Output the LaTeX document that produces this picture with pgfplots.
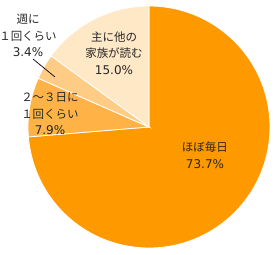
\documentclass[border=0pt]{standalone}
\usepackage{pgfplots}
\pgfplotsset{compat=1.18}
\usepackage{fontspec}
\setmainfont{Noto Sans CJK JP}
\newfontfamily\cjk{Noto Sans CJK JP}
\newfontfamily\num{DejaVu Sans}
\definecolor{c1}{HTML}{FF9900}
\definecolor{c2}{HTML}{FFB347}
\definecolor{c3}{HTML}{FFCC85}
\definecolor{c4}{HTML}{FFE8C6}
\newcommand{\pc}[1]{{\num\fontsize{12}{16.5}\selectfont #1}}
\begin{document}
\begin{tikzpicture}
\begin{axis}[
  scale only axis, width=274pt, height=255pt,
  xmin=0, xmax=274, ymin=-255, ymax=0,
  hide axis, clip=false,
]
\addplot[fill=c1, draw=white, line width=0.8pt, domain=0:73.7, samples=150, variable=\t]
  ({149+121*sin(3.6*\t)}, {-127+121*cos(3.6*\t)}) -- (axis cs:149,-127) -- cycle;
\addplot[fill=c2, draw=white, line width=0.8pt, domain=73.7:81.6, samples=30, variable=\t]
  ({149+121*sin(3.6*\t)}, {-127+121*cos(3.6*\t)}) -- (axis cs:149,-127) -- cycle;
\addplot[fill=c3, draw=white, line width=0.8pt, domain=81.6:85.0, samples=20, variable=\t]
  ({149+121*sin(3.6*\t)}, {-127+121*cos(3.6*\t)}) -- (axis cs:149,-127) -- cycle;
\addplot[fill=c4, draw=white, line width=0.8pt, domain=85.0:100, samples=40, variable=\t]
  ({149+121*sin(3.6*\t)}, {-127+121*cos(3.6*\t)}) -- (axis cs:149,-127) -- cycle;
\draw[black, line width=0.7pt] (axis cs:33,-59) -- (axis cs:55,-77);
\tikzset{lab/.style={align=center, inner sep=0pt, text=black!85, font=\cjk\fontsize{11.5}{16.5}\selectfont}}
\node[lab] at (axis cs:205,-155.5) {ほぼ毎日\\\pc{73.7\%}};
\node[lab] at (axis cs:114,-53) {主に他の\\家族が読む\\\pc{15.0\%}};
\node[lab] at (axis cs:28,-35.5) {週に\\１回くらい\\\pc{3.4\%}};
\node[lab] at (axis cs:50,-114) {２～３日に\\１回くらい\\\pc{7.9\%}};
\end{axis}
\pgfresetboundingbox
\path (current axis.south west) rectangle (current axis.north east);
\end{tikzpicture}
\end{document}
